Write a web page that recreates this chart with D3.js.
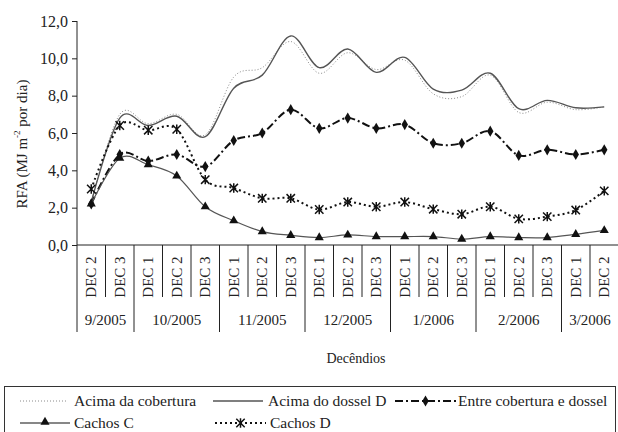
<!DOCTYPE html>
<html>
<head>
<meta charset="utf-8">
<script src="https://cdn.jsdelivr.net/npm/d3@7"></script>
<style>
  html, body { margin: 0; padding: 0; background: #fff; }
  svg { display: block; }
  svg text { font-family: "Liberation Serif", "Times New Roman", Times, "DejaVu Serif", serif !important; fill: #222; }
</style>
</head>
<body>
<div id="chart"></div>
<script>
// ---- data ----
const decendios = ["DEC 2","DEC 3","DEC 1","DEC 2","DEC 3","DEC 1","DEC 2","DEC 3","DEC 1","DEC 2","DEC 3","DEC 1","DEC 2","DEC 3","DEC 1","DEC 2","DEC 3","DEC 1","DEC 2"];
const months = ["9/2005","10/2005","11/2005","12/2005","1/2006","2/2006","3/2006"];
const monthCounts = [2,3,3,3,3,3,2];
const yTicks = [0,2,4,6,8,10,12];

const acimaCobertura = [2.3,7.0,6.5,7.0,5.9,9.0,9.5,10.9,9.2,10.3,9.4,9.9,8.1,7.95,9.1,7.1,7.65,7.25,7.4];
const acimaDossel    = [2.3,6.8,6.4,6.9,5.8,8.4,9.1,11.2,9.5,10.5,9.25,10.05,8.35,8.3,9.2,7.3,7.75,7.35,7.4];
const entre          = [2.2,4.85,4.5,4.85,4.2,5.6,6.0,7.25,6.25,6.8,6.25,6.45,5.45,5.45,6.1,4.8,5.1,4.85,5.1];
const cachosC        = [2.2,4.65,4.3,3.7,2.05,1.3,0.72,0.52,0.4,0.54,0.45,0.45,0.45,0.32,0.45,0.4,0.4,0.57,0.78];
const cachosD        = [3.0,6.4,6.15,6.2,3.5,3.05,2.5,2.5,1.9,2.3,2.05,2.3,1.92,1.65,2.05,1.4,1.52,1.87,2.9];

const W = 618, H = 432;
const mLeft = 77, mRight = 618.5, mTop = 21, mBottom = 245;
const FONT = '"Liberation Serif", "Times New Roman", Times, "DejaVu Serif", serif';

const svg = d3.select("#chart").append("svg").attr("width", W).attr("height", H)
  .attr("font-family", FONT);

const idx = d3.range(decendios.length);
const x = d3.scaleBand().domain(idx).range([mLeft, mRight]).padding(0);
const y = d3.scaleLinear().domain([0, 12]).range([mBottom, mTop]);
const cx = i => x(i) + x.bandwidth() / 2;

// ---- y axis ----
const yAxis = d3.axisLeft(y).tickValues(yTicks).tickSize(5).tickPadding(4)
  .tickFormat(d => d3.format(".1f")(d).replace(".", ","));
const gy = svg.append("g").attr("transform", `translate(${mLeft},0)`).call(yAxis)
  .attr("font-family", FONT).attr("font-size", 16);
gy.select(".domain").remove();
gy.selectAll(".tick line").attr("stroke", "#222");
gy.selectAll(".tick text").attr("fill", "#222");

// axis lines
svg.append("line").attr("x1", mLeft).attr("x2", mLeft).attr("y1", mTop).attr("y2", 332).attr("stroke", "#222");
svg.append("line").attr("x1", mLeft).attr("x2", mRight).attr("y1", mBottom).attr("y2", mBottom).attr("stroke", "#222");

// ---- x category axis ----
const gx = svg.append("g");
const monthStarts = Array.from(d3.cumsum(monthCounts));
idx.forEach(i => {
  if (i > 0) {
    const isMonth = monthStarts.includes(i);
    gx.append("line").attr("x1", x(i)).attr("x2", x(i))
      .attr("y1", mBottom).attr("y2", isMonth ? 332 : 297).attr("stroke", "#222");
  }
  gx.append("text")
    .attr("transform", `translate(${cx(i) + 5},277) rotate(-90)`)
    .attr("text-anchor", "middle")
    .style("font-size", "15px")
    .text(decendios[i]);
});
let start = 0;
months.forEach((m, k) => {
  const a = x(start), b = x(start + monthCounts[k] - 1) + x.bandwidth();
  gx.append("text").attr("x", (a + b) / 2).attr("y", 325)
    .attr("text-anchor", "middle").style("font-size", "15px").text(m);
  start += monthCounts[k];
});

// titles
svg.append("text").attr("x", 356).attr("y", 363).attr("text-anchor", "middle")
  .style("font-size", "14px").text("Decêndios");

const yt = svg.append("text").attr("transform", "translate(27,144) rotate(-90)")
  .attr("text-anchor", "middle").style("font-size", "15px");
yt.append("tspan").text("RFA (MJ m");
yt.append("tspan").attr("dy", -7).style("font-size", "9px").text("-2");
yt.append("tspan").attr("dy", 7).text(" por dia)");

// ---- series ----
const line = d3.line().x((d, i) => cx(i)).y(d => y(d)).curve(d3.curveCardinal.tension(0));

const series = [
  { name: "Acima da cobertura", data: acimaCobertura, stroke: "#8a8a8a", width: 1, dash: "1,2", marker: null },
  { name: "Acima do dossel D", data: acimaDossel, stroke: "#555", width: 1.4, dash: null, marker: null },
  { name: "Entre cobertura e dossel", data: entre, stroke: "#111", width: 2, dash: "8,3,2,3", marker: "diamond" },
  { name: "Cachos C", data: cachosC, stroke: "#555", width: 1.2, dash: null, marker: "triangle" },
  { name: "Cachos D", data: cachosD, stroke: "#111", width: 2, dash: "2,3", marker: "star" }
];

function drawMarker(g, type, px, py) {
  if (type === "diamond") {
    g.append("path").attr("d", d3.symbol(d3.symbolDiamond, 36)()).attr("transform", `translate(${px},${py})`).attr("fill", "#111");
  } else if (type === "triangle") {
    g.append("path").attr("d", d3.symbol(d3.symbolTriangle, 36)()).attr("transform", `translate(${px},${py})`).attr("fill", "#111");
  } else if (type === "star") {
    const s = 4.2;
    const p = `M${-s},${-s}L${s},${s}M${-s},${s}L${s},${-s}M0,${-s-0.5}L0,${s+0.5}`;
    g.append("path").attr("d", p).attr("transform", `translate(${px},${py})`).attr("stroke", "#111").attr("stroke-width", 1.5).attr("fill", "none");
  }
}

const gs = svg.append("g");
series.forEach(s => {
  gs.append("path").datum(s.data).attr("d", line).attr("fill", "none")
    .attr("stroke", s.stroke).attr("stroke-width", s.width)
    .attr("stroke-dasharray", s.dash);
  if (s.marker) {
    s.data.forEach((v, i) => drawMarker(gs, s.marker, cx(i), y(v)));
  }
});

// ---- legend ----
const lg = svg.append("g");
lg.append("rect").attr("x", 4.5).attr("y", 386.5).attr("width", 611).attr("height", 60)
  .attr("fill", "none").attr("stroke", "#333");
const legendItems = [
  { s: series[0], x0: 20, x1: 68, tx: 74, ty: 401 },
  { s: series[1], x0: 213, x1: 263, tx: 268, ty: 401 },
  { s: series[2], x0: 395, x1: 456, tx: 458, ty: 401 },
  { s: series[3], x0: 20, x1: 70, tx: 74, ty: 423 },
  { s: series[4], x0: 215, x1: 266, tx: 270, ty: 423 }
];
legendItems.forEach(it => {
  lg.append("line").attr("x1", it.x0).attr("x2", it.x1).attr("y1", it.ty).attr("y2", it.ty)
    .attr("stroke", it.s.marker === "triangle" ? "#111" : it.s.stroke)
    .attr("stroke-width", it.s.width).attr("stroke-dasharray", it.s.dash);
  if (it.s.marker) drawMarker(lg, it.s.marker, (it.x0 + it.x1) / 2, it.ty - (it.s.marker === "triangle" ? 1 : 0));
  lg.append("text").attr("x", it.tx).attr("y", it.ty).attr("dy", "0.35em")
    .style("font-size", "15.5px").text(it.s.name);
});
</script>
</body>
</html>
